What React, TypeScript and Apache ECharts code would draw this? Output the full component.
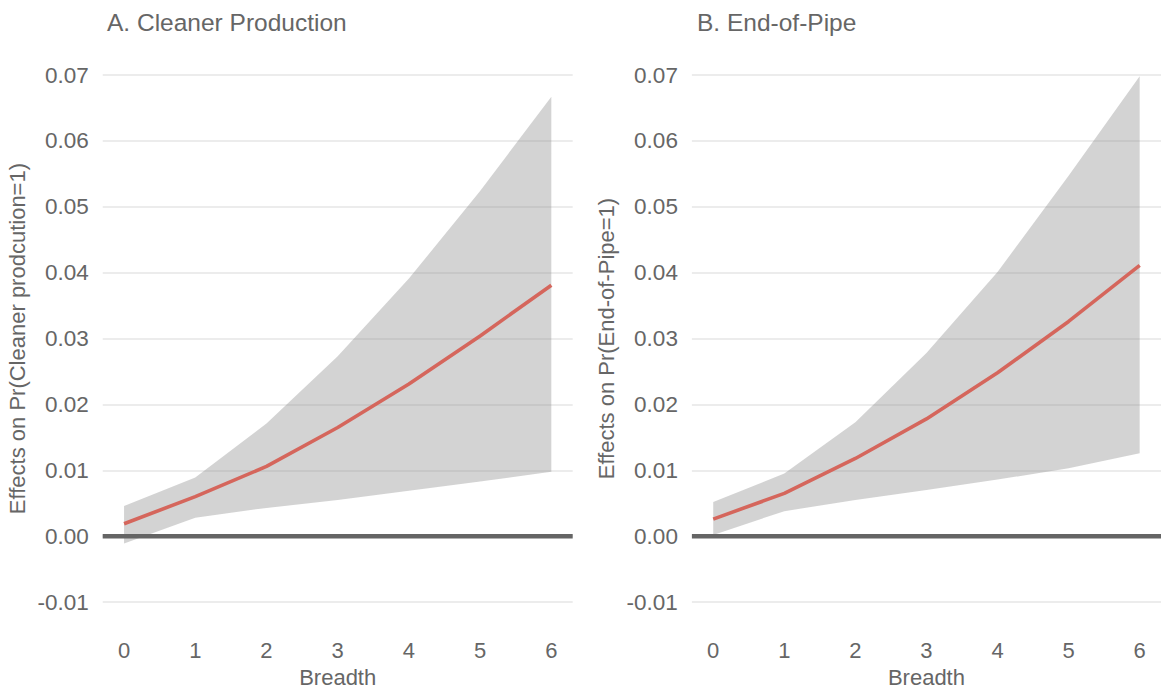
import React, { useEffect, useRef } from "react";
import * as echarts from "echarts";

const breadth = [0, 1, 2, 3, 4, 5, 6];
const xTicks = [0, 1, 2, 3, 4, 5, 6];

const cpMean = [0.0019, 0.006, 0.0106, 0.0165, 0.0231, 0.0304, 0.0381];
const cpLower = [-0.0011, 0.0028, 0.0043, 0.0055, 0.0069, 0.0083, 0.0098];
const cpUpper = [0.0046, 0.0089, 0.0171, 0.0273, 0.0391, 0.0524, 0.0667];

const eopMean = [0.0026, 0.0065, 0.0118, 0.0178, 0.0248, 0.0326, 0.0411];
const eopLower = [0.0002, 0.0038, 0.0055, 0.007, 0.0086, 0.0103, 0.0126];
const eopUpper = [0.0052, 0.0095, 0.0173, 0.0278, 0.0401, 0.0547, 0.0698];

const titles = ["A. Cleaner Production", "B. End-of-Pipe"];
const yNames = ["Effects on Pr(Cleaner prodcution=1)", "Effects on Pr(End-of-Pipe=1)"];
const xName = "Breadth";

const FONT = "'Liberation Sans', Arial, sans-serif";
const TXT = "#666666";

export default function App() {
  const ref = useRef<HTMLDivElement>(null);
  useEffect(() => {
    if (!ref.current) return;
    const chart = echarts.init(ref.current, null, { renderer: "svg" });
    const grids = [
      { left: 102.7, top: 75, width: 470, height: 532 },
      { left: 691.9, top: 75, width: 470, height: 532 },
    ];
    const panels = [
      { mean: cpMean, lower: cpLower, upper: cpUpper },
      { mean: eopMean, lower: eopLower, upper: eopUpper },
    ];
    const xAxis: any[] = [];
    const yAxis: any[] = [];
    const series: any[] = [];
    panels.forEach((p, i) => {
      xAxis.push({
        type: "value",
        gridIndex: i,
        min: -0.3,
        max: 6.3,
        name: xName,
        nameLocation: "middle",
        nameGap: 63,
        nameTextStyle: { fontSize: 22, color: TXT, fontFamily: FONT },
        axisLine: { show: false },
        axisTick: { show: false },
        splitLine: { show: false },
        axisLabel: {
          customValues: xTicks,
          margin: 37,
          fontSize: 22,
          color: TXT,
          fontFamily: FONT,
        },
      });
      yAxis.push({
        type: "value",
        gridIndex: i,
        min: -0.01,
        max: 0.07,
        interval: 0.01,
        name: yNames[i],
        nameLocation: "middle",
        nameGap: 74,
        nameTextStyle: { fontSize: 22, color: TXT, fontFamily: FONT },
        axisLine: { show: false },
        axisTick: { show: false },
        splitLine: { show: true, lineStyle: { color: "#e6e6e6", width: 1.6 } },
        axisLabel: {
          margin: 14,
          fontSize: 22.5,
          color: TXT,
          fontFamily: FONT,
          formatter: (v: number) => (Math.abs(v) < 1e-9 ? "0.00" : v.toFixed(2)),
        },
      });
      series.push({
        type: "custom",
        xAxisIndex: i,
        yAxisIndex: i,
        data: breadth.map((x, k) => [x, p.lower[k], p.upper[k]]),
        encode: { x: 0, y: [1, 2] },
        silent: true,
        z: 2,
        renderItem: (params: any, api: any) => {
          if (params.dataIndexInside !== 0) return null;
          const n = params.dataInsideLength;
          const top: number[][] = [];
          const bottom: number[][] = [];
          for (let k = 0; k < n; k++) {
            const x = api.value(0, k);
            top.push(api.coord([x, api.value(2, k)]));
            bottom.push(api.coord([x, api.value(1, k)]));
          }
          const points = top.concat(bottom.reverse());
          return {
            type: "polygon",
            shape: { points },
            style: { fill: "rgba(140,140,140,0.38)", stroke: "none" },
          };
        },
      });
      series.push({
        type: "line",
        xAxisIndex: i,
        yAxisIndex: i,
        data: [
          [-0.3, 0],
          [6.3, 0],
        ],
        symbol: "none",
        lineStyle: { color: "#656565", width: 4.5 },
        silent: true,
        z: 3,
      });
      series.push({
        type: "line",
        xAxisIndex: i,
        yAxisIndex: i,
        data: breadth.map((x, k) => [x, p.mean[k]]),
        symbol: "none",
        lineStyle: { color: "#d5665c", width: 3.6 },
        silent: true,
        z: 4,
      });
    });
    chart.setOption({
      animation: false,
      backgroundColor: "#ffffff",
      title: [
        {
          text: titles[0],
          left: 102,
          top: 5,
          textStyle: { fontSize: 24.5, fontWeight: "normal", color: TXT, fontFamily: FONT },
        },
        {
          text: titles[1],
          left: 692,
          top: 5,
          textStyle: { fontSize: 24.5, fontWeight: "normal", color: TXT, fontFamily: FONT },
        },
      ],
      grid: grids,
      xAxis,
      yAxis,
      series,
    });
    return () => chart.dispose();
  }, []);
  return (
    <div
      ref={ref}
      style={{ position: "fixed", left: 0, top: 0, width: 1161, height: 693 }}
    />
  );
}
